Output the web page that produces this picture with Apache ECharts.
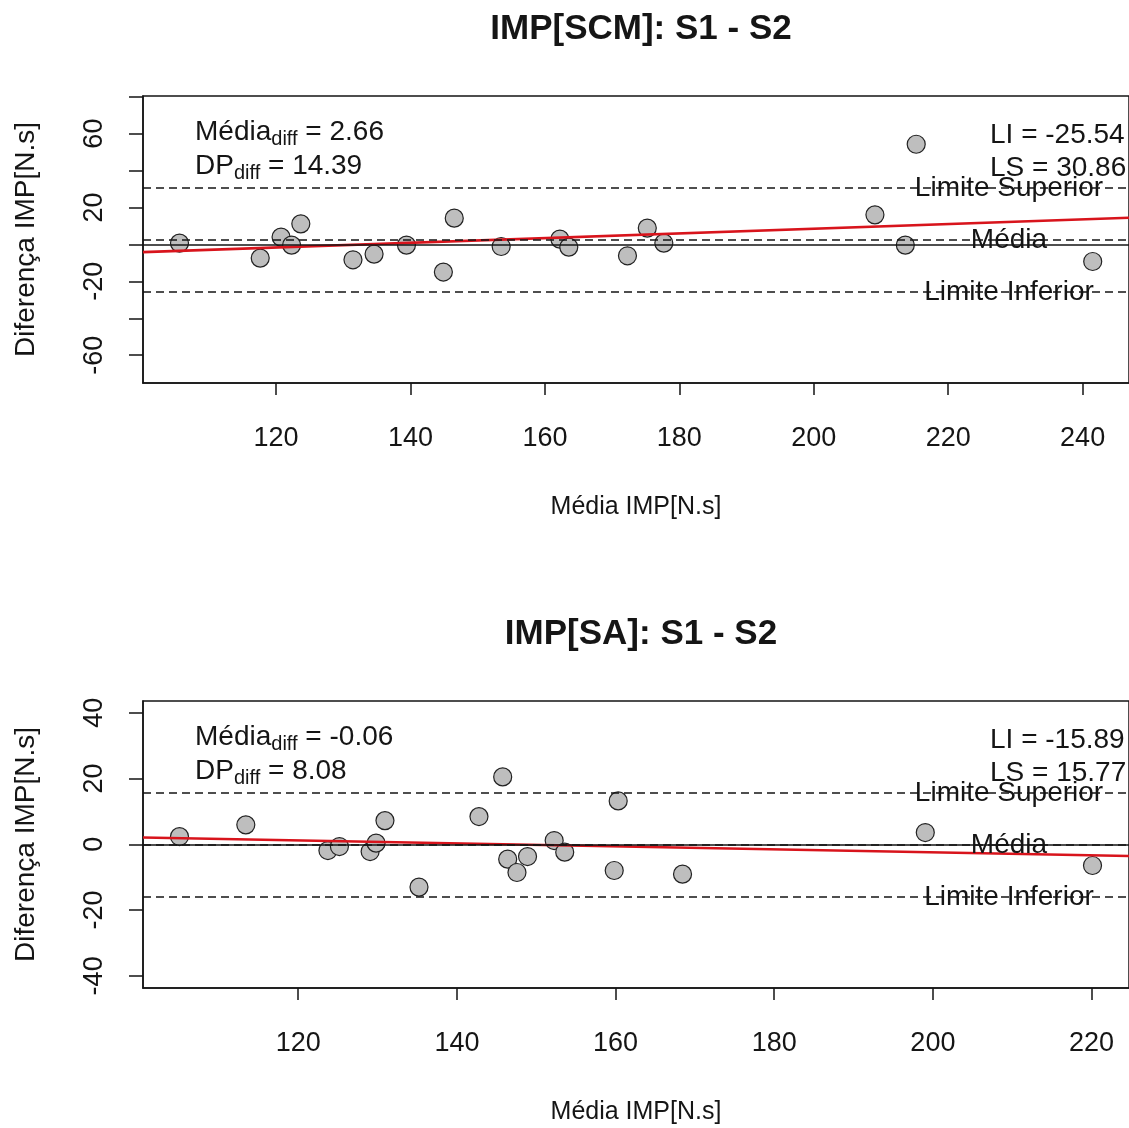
<!DOCTYPE html>
<html><head><meta charset="utf-8">
<script src="https://cdn.jsdelivr.net/npm/echarts@6/dist/echarts.min.js"></script>
<style>html,body{margin:0;padding:0;background:#fff}#c{width:1129px;height:1128px}</style>
</head><body><div id="c"></div>
<script>
// ---------- data ----------
const titles = ['IMP[SCM]: S1 - S2', 'IMP[SA]: S1 - S2'];
const xTitle = 'Média IMP[N.s]';
const yTitle = 'Diferença IMP[N.s]';
const lineNames = ['Limite Inferior', 'Média', 'Limite Superior'];

const scmX = [105.63,117.64,120.74,122.31,123.68,131.44,134.58,139.40,144.89,146.51,153.49,162.22,163.55,172.28,175.23,177.69,209.10,213.62,215.24,241.50];
const scmY = [0.70,-7.41,3.95,-0.38,11.14,-8.33,-5.25,-0.38,-14.98,14.22,-1.14,2.87,-1.46,-6.17,8.82,0.70,16.01,-0.38,54.24,-9.25];
const saX = [105.03,113.39,123.74,125.19,129.06,129.81,130.93,135.22,142.78,145.77,146.40,147.57,148.90,152.26,153.59,159.83,160.33,168.44,199.04,220.12];
const saY = [2.35,5.91,-1.90,-0.68,-2.20,0.35,7.21,-13.01,8.43,20.49,-4.51,-8.58,-3.72,1.14,-2.38,-7.97,13.20,-9.07,3.57,-6.45];

const scmLimits = [-25.54, 2.66, 30.86];   // LI, mean, LS
const saLimits = [-15.89, -0.06, 15.77];
const scmSD = ['14.39'];
const saSD = ['8.08'];
const scmMeanTxt = ['2.66'];
const saMeanTxt = ['-0.06'];

const scmFitX = [100.2, 246.9];
const scmFitY = [-4.16, 14.43];
const saFitX = [100.43, 224.72];
const saFitY = [2.05, -3.57];

const scmXRange = [100.2, 246.9];
const scmYRange = [-75.05, 80.37];
const saXRange = [100.43, 224.72];
const saYRange = [-43.69, 43.57];

const scmXTicks = [120, 140, 160, 180, 200, 220, 240];
const saXTicks = [120, 140, 160, 180, 200, 220];
const scmYTicks = [-60, -40, -20, 0, 20, 40, 60, 80];
const scmYLabels = [-60, -20, 20, 60];
const saYTicks = [-40, -20, 0, 20, 40];
const saYLabels = [-40, -20, 0, 20, 40];

// ---------- chart ----------
const FONT = '"Liberation Sans", Arial, sans-serif';
const INK = '#151515';
const GRID_TOPS = [96, 701];
const GRID_H = 287;

const chart = echarts.init(document.getElementById('c'), null, {renderer: 'canvas'});

function xAxis(gi, range, ticks) {
  return {
    type: 'value', gridIndex: gi, min: range[0], max: range[1],
    axisLine: {show: true, onZero: false, lineStyle: {color: INK, width: 1.5}},
    axisTick: {show: true, length: 12, customValues: ticks, lineStyle: {color: INK, width: 1.5}},
    axisLabel: {customValues: ticks, fontSize: 27, fontFamily: FONT, color: INK, margin: 42},
    splitLine: {show: false},
    name: xTitle, nameLocation: 'middle', nameGap: 112,
    nameTextStyle: {fontSize: 25, fontFamily: FONT, color: INK}
  };
}
function yAxis(gi, range, ticks, labels) {
  return {
    type: 'value', gridIndex: gi, min: range[0], max: range[1],
    axisLine: {show: true, onZero: false, lineStyle: {color: INK, width: 1.5}},
    axisTick: {show: true, length: 14, customValues: ticks, lineStyle: {color: INK, width: 1.5}},
    axisLabel: {customValues: labels, rotate: 90, fontSize: 27, fontFamily: FONT, color: INK, margin: 35},
    splitLine: {show: false},
    name: yTitle, nameLocation: 'middle', nameGap: 103, nameRotate: 90,
    nameTextStyle: {fontSize: 28, fontFamily: FONT, color: INK}
  };
}
function limitLines(limits) {
  return {
    symbol: 'none', silent: true, label: {show: false}, animation: false,
    data: [
      {yAxis: 0, lineStyle: {type: 'solid', color: INK, width: 1.5}},
      {yAxis: limits[0], lineStyle: {type: [8, 5], color: INK, width: 1.6}},
      {yAxis: limits[1], lineStyle: {type: [8, 5], color: INK, width: 1.6}},
      {yAxis: limits[2], lineStyle: {type: [8, 5], color: INK, width: 1.6}}
    ]
  };
}
function pts(xs, ys) { return xs.map((x, i) => [x, ys[i]]); }

const option = {
  backgroundColor: '#fff',
  animation: false,
  grid: [
    {left: 143, top: GRID_TOPS[0], width: 996, height: GRID_H, show: true, borderColor: INK, borderWidth: 1.5},
    {left: 143, top: GRID_TOPS[1], width: 996, height: GRID_H, show: true, borderColor: INK, borderWidth: 1.5}
  ],
  xAxis: [xAxis(0, scmXRange, scmXTicks), xAxis(1, saXRange, saXTicks)],
  yAxis: [yAxis(0, scmYRange, scmYTicks, scmYLabels), yAxis(1, saYRange, saYTicks, saYLabels)],
  series: [
    {type: 'scatter', xAxisIndex: 0, yAxisIndex: 0, data: pts(scmX, scmY), symbol: 'circle', symbolSize: 18, z: 2,
     itemStyle: {color: '#BEBEBE', borderColor: '#222', borderWidth: 1.2, opacity: 1}},
    {type: 'scatter', xAxisIndex: 1, yAxisIndex: 1, data: pts(saX, saY), symbol: 'circle', symbolSize: 18, z: 2,
     itemStyle: {color: '#BEBEBE', borderColor: '#222', borderWidth: 1.2, opacity: 1}},
    {type: 'line', xAxisIndex: 0, yAxisIndex: 0, data: pts(scmFitX, scmFitY), symbol: 'none', z: 4,
     lineStyle: {color: '#d8141c', width: 2.6}, markLine: limitLines(scmLimits)},
    {type: 'line', xAxisIndex: 1, yAxisIndex: 1, data: pts(saFitX, saFitY), symbol: 'none', z: 4,
     lineStyle: {color: '#d8141c', width: 2.6}, markLine: limitLines(saLimits)}
  ]
};
chart.setOption(option);

// ---------- text annotations ----------
const rich = {
  m: {fontSize: 28, lineHeight: 34, fontFamily: FONT, fill: INK},
  s: {fontSize: 20, lineHeight: 16, fontFamily: FONT, fill: INK, verticalAlign: 'bottom'}
};
function txt(x, y, text, size, align, weight) {
  return {type: 'text', x: x, y: y, z: 100, silent: true,
    style: {text: text, fontSize: size, fontFamily: FONT, fontWeight: weight || 'normal', fill: INK,
            align: align || 'left', verticalAlign: 'middle'}};
}
const panels = [
  {limits: scmLimits, mean: scmMeanTxt[0], sd: scmSD[0]},
  {limits: saLimits, mean: saMeanTxt[0], sd: saSD[0]}
];
const graphics = [];
panels.forEach((p, gi) => {
  const top = GRID_TOPS[gi];
  graphics.push(txt(641, top - 67, titles[gi], 35, 'center', 'bold'));
  graphics.push({type: 'text', x: 195, y: top + 36, z: 100, silent: true,
    style: {text: '{m|Média}{s|diff}{m| = ' + p.mean + '}', rich: rich, align: 'left', verticalAlign: 'middle'}});
  graphics.push({type: 'text', x: 195, y: top + 70, z: 100, silent: true,
    style: {text: '{m|DP}{s|diff}{m| = ' + p.sd + '}', rich: rich, align: 'left', verticalAlign: 'middle'}});
  graphics.push(txt(990, top + 39, 'LI = ' + p.limits[0].toFixed(2), 28, 'left'));
  graphics.push(txt(990, top + 72, 'LS = ' + p.limits[2].toFixed(2), 28, 'left'));
  p.limits.forEach((v, k) => {
    const py = chart.convertToPixel({gridIndex: gi}, [0, v])[1];
    graphics.push(txt(1009, py + 1, lineNames[k], 28, 'center'));
  });
});
chart.setOption({graphic: graphics});
</script>
</body></html>
